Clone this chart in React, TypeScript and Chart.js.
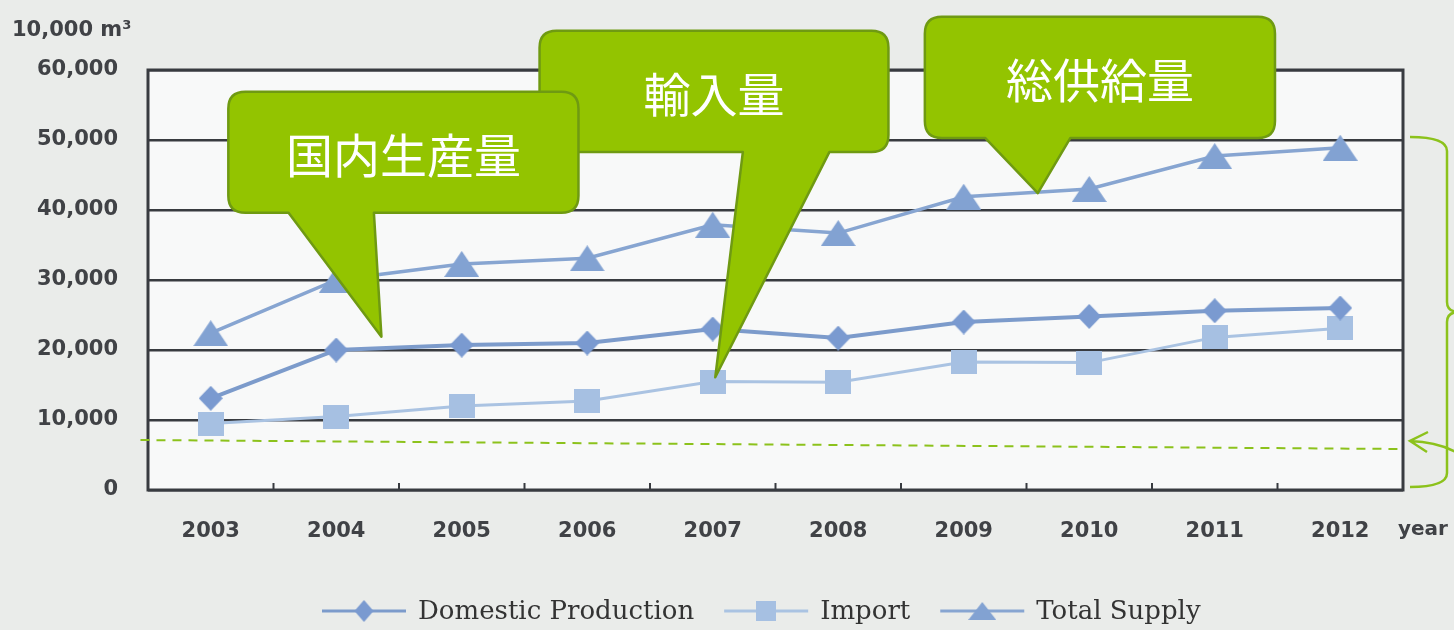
import React, { useEffect, useRef } from "react";
import { Chart, registerables } from "chart.js";

Chart.register(...registerables);

// ---- data (unit: 10,000 m³) ----
const years = ["2003", "2004", "2005", "2006", "2007", "2008", "2009", "2010", "2011", "2012"];
const domesticProduction = [13100, 20000, 20700, 21000, 23000, 21700, 24000, 24800, 25600, 26000];
const importVolume = [9500, 10500, 12000, 12700, 15500, 15400, 18300, 18200, 21800, 23100];
const totalSupply = [22400, 30000, 32300, 33100, 37900, 36700, 41900, 43000, 47700, 48900];
const yTickValues = [0, 10000, 20000, 30000, 40000, 50000, 60000];
const seriesLabels = ["Domestic Production", "Import", "Total Supply"];
const unitLabel = "10,000 m³";
const xAxisLabel = "year";

// callout annotations, in data coordinates (x = category index, y = value)
const callouts = [
  { text: "総供給量", x0: 5.69, x1: 8.48, yTop: 67600, yBottom: 50300, tailX0: 6.17, tailX1: 6.85, tipX: 6.59, tipY: 42400 },
  { text: "輸入量", x0: 2.62, x1: 5.4, yTop: 65600, yBottom: 48300, tailX0: 4.24, tailX1: 4.93, tipX: 4.02, tipY: 16100 },
  { text: "国内生産量", x0: 0.14, x1: 2.93, yTop: 56900, yBottom: 39600, tailX0: 0.62, tailX1: 1.3, tipX: 1.36, tipY: 21900 },
];
const dashedGuide = { x0: -0.56, y0: 7140, x1: 9.47, y1: 5860 };

const GREEN = "#93c400";
const GREEN_DARK = "#6f9a12";
const GREEN_LINE = "#8cc21c";
const INK = "#404246";
const GRID = "#383b40";

function makeMarker(kind: string, w: number, h: number, color: string) {
  const c = document.createElement("canvas");
  c.width = w;
  c.height = h;
  const ctx = c.getContext("2d")!;
  ctx.fillStyle = color;
  ctx.beginPath();
  if (kind === "diamond") {
    ctx.moveTo(w / 2, 0);
    ctx.lineTo(w, h / 2);
    ctx.lineTo(w / 2, h);
    ctx.lineTo(0, h / 2);
  } else if (kind === "triangle") {
    ctx.moveTo(w / 2, 0);
    ctx.lineTo(w, h);
    ctx.lineTo(0, h);
  } else {
    ctx.rect(0, 0, w, h);
  }
  ctx.closePath();
  ctx.fill();
  return c;
}

export default function App() {
  const ref = useRef<HTMLCanvasElement | null>(null);

  useEffect(() => {
    const canvas = ref.current;
    if (!canvas) return;

    const domColor = "#7c9bcb";
    const impColor = "#aac3e2";
    const totColor = "#87a5d1";

    const diamond = makeMarker("diamond", 24, 25, "#7a9ad0");
    const square = makeMarker("square", 26, 24, "#a6c0e2");
    const triangle = makeMarker("triangle", 35, 26, "#82a2d2");
    const legDiamond = makeMarker("diamond", 19, 22, "#7a9ad0");
    const legSquare = makeMarker("square", 20, 20, "#a6c0e2");
    const legTriangle = makeMarker("triangle", 28, 18, "#82a2d2");
    const legendMarkers = [legDiamond, legSquare, legTriangle];

    const decorPlugin = {
      id: "decor",
      beforeDraw(chart: any) {
        const { ctx, chartArea: a } = chart;
        ctx.save();
        ctx.fillStyle = "#eaecea";
        ctx.fillRect(0, 0, chart.width, chart.height);
        ctx.fillStyle = "#f8f9f9";
        ctx.fillRect(a.left, a.top, a.right - a.left, a.bottom - a.top);
        ctx.restore();
      },
      afterDatasetsDraw(chart: any) {
        const { ctx, chartArea: a, scales } = chart;
        const xs = scales.x;
        const ys = scales.y;
        ctx.save();
        // frame
        ctx.strokeStyle = GRID;
        ctx.lineWidth = 3;
        ctx.strokeRect(a.left, a.top, a.right - a.left, a.bottom - a.top);
        // inner ticks at category boundaries
        ctx.lineWidth = 2;
        for (let i = 1; i < years.length; i++) {
          const px = xs.getPixelForValue(i - 0.5);
          ctx.beginPath();
          ctx.moveTo(px, a.bottom);
          ctx.lineTo(px, a.bottom - 7);
          ctx.stroke();
        }
        // dashed guide line
        ctx.strokeStyle = GREEN_LINE;
        ctx.lineWidth = 2;
        ctx.setLineDash([9, 7]);
        ctx.beginPath();
        ctx.moveTo(xs.getPixelForValue(dashedGuide.x0), ys.getPixelForValue(dashedGuide.y0));
        ctx.lineTo(xs.getPixelForValue(dashedGuide.x1), ys.getPixelForValue(dashedGuide.y1));
        ctx.stroke();
        ctx.setLineDash([]);

        // brace on the right
        const xe = a.right + 7;
        const xv = a.right + 44;
        const yt = ys.getPixelForValue(50000) - 3;
        const yb = ys.getPixelForValue(0) - 3;
        const ym = (yt + yb) / 2;
        ctx.lineWidth = 2.5;
        ctx.beginPath();
        ctx.moveTo(xe, yt);
        ctx.quadraticCurveTo(xv, yt, xv, yt + 14);
        ctx.lineTo(xv, ym - 10);
        ctx.quadraticCurveTo(xv, ym, xv + 12, ym);
        ctx.quadraticCurveTo(xv, ym, xv, ym + 10);
        ctx.lineTo(xv, yb - 14);
        ctx.quadraticCurveTo(xv, yb, xe, yb);
        ctx.stroke();

        // arrow
        const tx = a.right + 7;
        const ty = ys.getPixelForValue(7000);
        ctx.beginPath();
        ctx.moveTo(tx, ty);
        ctx.quadraticCurveTo(tx + 32, ty + 1, tx + 52, ty + 15);
        ctx.moveTo(tx + 18, ty - 9);
        ctx.lineTo(tx, ty);
        ctx.lineTo(tx + 17, ty + 11);
        ctx.stroke();
        ctx.restore();

        // callouts
        for (const c of callouts) {
          const L = xs.getPixelForValue(c.x0);
          const R = xs.getPixelForValue(c.x1);
          const T = ys.getPixelForValue(c.yTop);
          const B = ys.getPixelForValue(c.yBottom);
          const t0 = xs.getPixelForValue(c.tailX0);
          const t1 = xs.getPixelForValue(c.tailX1);
          const px = xs.getPixelForValue(c.tipX);
          const py = ys.getPixelForValue(c.tipY);
          const r = 17;
          ctx.save();
          ctx.beginPath();
          ctx.moveTo(L + r, T);
          ctx.lineTo(R - r, T);
          ctx.quadraticCurveTo(R, T, R, T + r);
          ctx.lineTo(R, B - r);
          ctx.quadraticCurveTo(R, B, R - r, B);
          ctx.lineTo(t1, B);
          ctx.lineTo(px, py);
          ctx.lineTo(t0, B);
          ctx.lineTo(L + r, B);
          ctx.quadraticCurveTo(L, B, L, B - r);
          ctx.lineTo(L, T + r);
          ctx.quadraticCurveTo(L, T, L + r, T);
          ctx.closePath();
          ctx.fillStyle = GREEN;
          ctx.fill();
          ctx.strokeStyle = GREEN_DARK;
          ctx.lineWidth = 2.5;
          ctx.lineJoin = "round";
          ctx.stroke();
          ctx.fillStyle = "#ffffff";
          ctx.font = "47px 'Noto Sans CJK JP'";
          ctx.textAlign = "center";
          ctx.textBaseline = "middle";
          ctx.fillText(c.text, (L + R) / 2, (T + B) / 2 + 3);
          ctx.restore();
        }
      },
      afterDraw(chart: any) {
        const { ctx, chartArea: a } = chart;
        ctx.save();
        // unit label
        ctx.fillStyle = INK;
        ctx.font = "bold 21px 'DejaVu Sans'";
        ctx.textAlign = "left";
        ctx.textBaseline = "alphabetic";
        ctx.fillText(unitLabel, 12, 36);
        // "year"
        ctx.textBaseline = "middle";
        ctx.font = "bold 20px 'DejaVu Sans'";
        ctx.fillText(xAxisLabel, a.right - 5, 530);

        // legend
        ctx.font = "26px 'DejaVu Serif'";
        const ly = 611;
        let x = 322;
        chart.data.datasets.forEach((ds: any, i: number) => {
          ctx.strokeStyle = ds.borderColor;
          ctx.lineWidth = 3;
          ctx.beginPath();
          ctx.moveTo(x, ly);
          ctx.lineTo(x + 84, ly);
          ctx.stroke();
          const m = legendMarkers[i];
          ctx.drawImage(m, x + 42 - m.width / 2, ly - m.height / 2);
          ctx.fillStyle = "#333333";
          ctx.textAlign = "left";
          ctx.textBaseline = "middle";
          ctx.fillText(ds.label, x + 96, ly + 1);
          x = x + 96 + ctx.measureText(ds.label).width + 30;
        });
        ctx.restore();
      },
    };

    const chart = new Chart(canvas, {
      type: "line",
      data: {
        labels: years,
        datasets: [
          {
            label: seriesLabels[0],
            data: domesticProduction,
            borderColor: domColor,
            borderWidth: 4,
            pointStyle: diamond as any,
            pointRadius: 12,
            tension: 0,
          },
          {
            label: seriesLabels[1],
            data: importVolume,
            borderColor: impColor,
            borderWidth: 3,
            pointStyle: square as any,
            pointRadius: 12,
            tension: 0,
          },
          {
            label: seriesLabels[2],
            data: totalSupply,
            borderColor: totColor,
            borderWidth: 3.5,
            pointStyle: triangle as any,
            pointRadius: 12,
            tension: 0,
          },
        ],
      },
      options: {
        responsive: false,
        animation: false,
        layout: { padding: { top: 70, right: 51, bottom: 0, left: 0 } },
        plugins: {
          legend: { display: false },
          title: { display: false },
          tooltip: { enabled: false },
        },
        scales: {
          x: {
            type: "category",
            offset: true,
            grid: { display: false, drawTicks: false },
            border: { display: false },
            ticks: {
              padding: 29,
              color: INK,
              font: { family: "'DejaVu Sans'", size: 21, weight: "bold" },
              maxRotation: 0,
            },
            afterFit: (s: any) => {
              s.height = 140;
            },
          },
          y: {
            min: 0,
            max: 60000,
            afterBuildTicks: (s: any) => {
              s.ticks = yTickValues.map((v) => ({ value: v }));
            },
            grid: { color: GRID, lineWidth: 2.5, drawTicks: false },
            border: { display: false },
            ticks: {
              padding: 30,
              color: INK,
              font: { family: "'DejaVu Sans'", size: 21, weight: "bold" },
              callback: (v: any) => Number(v).toLocaleString("en-US"),
            },
            afterFit: (s: any) => {
              s.width = 148;
            },
          },
        },
      },
      plugins: [decorPlugin],
    });

    return () => chart.destroy();
  }, []);

  return (
    <div style={{ position: "absolute", left: 0, top: 0, width: 1454, height: 630 }}>
      <canvas ref={ref} width={1454} height={630} />
    </div>
  );
}
